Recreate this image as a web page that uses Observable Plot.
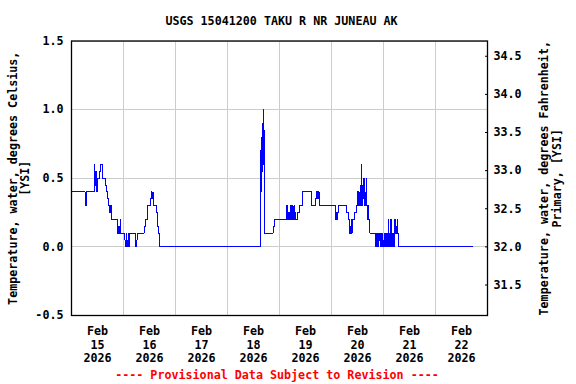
<!DOCTYPE html>
<html><head><meta charset="utf-8">
<script src="https://cdn.jsdelivr.net/npm/d3@7"></script>
<script src="https://cdn.jsdelivr.net/npm/@observablehq/plot@0.6"></script>
<style>
body{margin:0;background:#fff;width:576px;height:384px;overflow:hidden;font-family:"DejaVu Sans Mono",monospace;font-weight:bold;font-size:11.7px;color:#000;}
#title{height:30px;box-sizing:border-box;padding-top:14px;line-height:14px;text-align:center;padding-right:13px;white-space:pre;}
#foot{height:18px;line-height:18px;text-align:center;padding-right:22px;color:#ff0000;white-space:pre;}
svg{display:block;overflow:visible;}
</style></head><body>
<div id="title">USGS 15041200 TAKU R NR JUNEAU AK</div>
<div id="chart"></div>
<div id="foot">---- Provisional Data Subject to Revision ----</div>
<script>
const titleText = "USGS 15041200 TAKU R NR JUNEAU AK";
const leftLabel = "Temperature, water, degrees Celsius,\n[YSI]";
const rightLabel = "Temperature, water, degrees Fahrenheit,\nPrimary, [YSI]";
const dayTicks = ["2026-02-15","2026-02-16","2026-02-17","2026-02-18","2026-02-19","2026-02-20","2026-02-21","2026-02-22"];
const gridNoons = ["2026-02-15T12:00","2026-02-16T12:00","2026-02-17T12:00","2026-02-18T12:00","2026-02-19T12:00","2026-02-20T12:00","2026-02-21T12:00"];
const xDomain = ["2026-02-14T12:00","2026-02-22T12:00"];
const cTicks = [-0.5, 0.0, 0.5, 1.0, 1.5];
const fTicks = [31.5, 32.0, 32.5, 33.0, 33.5, 34.0, 34.5];

// change points (15-minute data), value held until next stamp
const stamps = [
"2026-02-14T12:30","2026-02-14T18:15","2026-02-14T18:30","2026-02-14T18:45","2026-02-14T22:30","2026-02-14T22:45",
"2026-02-14T23:00","2026-02-14T23:15","2026-02-14T23:30","2026-02-14T23:45","2026-02-15T00:00","2026-02-15T00:45",
"2026-02-15T01:15","2026-02-15T02:15","2026-02-15T03:45","2026-02-15T04:00","2026-02-15T04:45","2026-02-15T05:15",
"2026-02-15T05:30","2026-02-15T05:45","2026-02-15T06:00","2026-02-15T06:15","2026-02-15T06:30","2026-02-15T09:00",
"2026-02-15T09:15","2026-02-15T09:30","2026-02-15T09:45","2026-02-15T10:00","2026-02-15T10:30","2026-02-15T10:45",
"2026-02-15T12:30","2026-02-15T13:00","2026-02-15T13:15","2026-02-15T13:30","2026-02-15T13:45","2026-02-15T14:00",
"2026-02-15T14:15","2026-02-15T14:30","2026-02-15T14:45","2026-02-15T17:45","2026-02-15T18:00","2026-02-15T18:15",
"2026-02-15T21:30","2026-02-15T22:00","2026-02-15T23:15","2026-02-16T00:15","2026-02-16T00:45","2026-02-16T01:00",
"2026-02-16T01:30","2026-02-16T01:45","2026-02-16T03:15","2026-02-16T03:45","2026-02-16T04:15","2026-02-16T04:45",
"2026-02-18T03:00","2026-02-18T03:15","2026-02-18T03:30","2026-02-18T03:45","2026-02-18T04:00","2026-02-18T04:15",
"2026-02-18T04:30","2026-02-18T04:45","2026-02-18T05:00","2026-02-18T05:15","2026-02-18T09:00","2026-02-18T09:30",
"2026-02-18T15:15","2026-02-18T15:30","2026-02-18T15:45","2026-02-18T16:00","2026-02-18T16:30","2026-02-18T16:45",
"2026-02-18T17:00","2026-02-18T17:15","2026-02-18T17:30","2026-02-18T17:45","2026-02-18T18:00","2026-02-18T18:15",
"2026-02-18T18:30","2026-02-18T18:45","2026-02-18T19:00","2026-02-18T19:15","2026-02-18T20:30","2026-02-18T21:00",
"2026-02-18T22:30","2026-02-19T02:45","2026-02-19T04:45","2026-02-19T05:00","2026-02-19T05:15","2026-02-19T05:30",
"2026-02-19T05:45","2026-02-19T06:00","2026-02-19T06:15","2026-02-19T06:30","2026-02-19T13:45","2026-02-19T14:00",
"2026-02-19T14:15","2026-02-19T14:30","2026-02-19T14:45","2026-02-19T15:00","2026-02-19T19:00","2026-02-19T20:00",
"2026-02-19T20:15","2026-02-19T20:30","2026-02-19T20:45","2026-02-19T21:00","2026-02-19T21:15","2026-02-19T21:30",
"2026-02-19T21:45","2026-02-19T22:30","2026-02-19T23:30","2026-02-20T00:00","2026-02-20T00:15","2026-02-20T00:30",
"2026-02-20T00:45","2026-02-20T01:00","2026-02-20T01:15","2026-02-20T01:30","2026-02-20T01:45","2026-02-20T02:00",
"2026-02-20T02:15","2026-02-20T02:30","2026-02-20T02:45","2026-02-20T03:00","2026-02-20T03:15","2026-02-20T03:30",
"2026-02-20T03:45","2026-02-20T04:00","2026-02-20T04:15","2026-02-20T04:30","2026-02-20T04:45","2026-02-20T05:00",
"2026-02-20T05:15","2026-02-20T05:45","2026-02-20T08:15","2026-02-20T08:30","2026-02-20T08:45","2026-02-20T09:15",
"2026-02-20T09:30","2026-02-20T09:45","2026-02-20T10:00","2026-02-20T10:15","2026-02-20T10:30","2026-02-20T10:45",
"2026-02-20T11:15","2026-02-20T11:30","2026-02-20T11:45","2026-02-20T12:00","2026-02-20T12:15","2026-02-20T12:30",
"2026-02-20T12:45","2026-02-20T13:00","2026-02-20T13:15","2026-02-20T13:30","2026-02-20T13:45","2026-02-20T14:00",
"2026-02-20T14:15","2026-02-20T14:30","2026-02-20T14:45","2026-02-20T15:00","2026-02-20T15:15","2026-02-20T15:30",
"2026-02-20T15:45","2026-02-20T16:00","2026-02-20T16:15","2026-02-20T16:30","2026-02-20T16:45","2026-02-20T17:00",
"2026-02-20T17:15","2026-02-20T17:30","2026-02-20T17:45","2026-02-20T18:00","2026-02-20T18:15","2026-02-20T18:30",
"2026-02-20T19:00","2026-02-22T05:15"
];
const tempC = [
0.4,0.35,0.3,0.4,0.6,0.45,
0.55,0.45,0.55,0.4,0.5,0.55,
0.6,0.5,0.45,0.4,0.35,0.3,
0.25,0.3,0.25,0.3,0.2,0.15,
0.1,0.15,0.1,0.15,0.2,0.1,
0.05,0.0,0.1,0.0,0.05,0.0,
0.1,0.0,0.1,0.0,0.05,0.1,
0.15,0.2,0.3,0.35,0.4,0.35,
0.4,0.3,0.25,0.15,0.1,0.0,
0.7,0.4,0.8,0.55,0.9,0.6,
1.0,0.8,0.85,0.1,0.15,0.2,
0.3,0.2,0.25,0.2,0.25,0.2,
0.3,0.25,0.3,0.2,0.3,0.25,
0.2,0.3,0.25,0.2,0.25,0.3,
0.4,0.3,0.35,0.4,0.35,0.4,
0.35,0.4,0.35,0.3,0.25,0.2,
0.25,0.2,0.25,0.3,0.25,0.2,
0.1,0.15,0.1,0.2,0.1,0.15,
0.2,0.25,0.3,0.4,0.3,0.4,
0.3,0.4,0.3,0.45,0.6,0.3,
0.45,0.35,0.5,0.3,0.4,0.3,
0.4,0.5,0.3,0.25,0.2,0.3,
0.2,0.1,0.0,0.1,0.0,0.1,
0.0,0.1,0.05,0.1,0.0,0.1,
0.0,0.1,0.0,0.05,0.1,0.0,
0.1,0.0,0.1,0.0,0.1,0.0,
0.2,0.1,0.0,0.1,0.2,0.05,
0.0,0.1,0.0,0.1,0.0,0.1,
0.2,0.1,0.15,0.1,0.2,0.1,
0.0,0.0
];

const rows = stamps.map((s, i) => ({t: new Date(s), v: tempC[i]}));
const fTicksC = fTicks.map(f => (f - 32) / 1.8);
const grid = "#cccccc";

const chart = Plot.plot({
  width: 576,
  height: 336,
  marginTop: 10.5,
  marginBottom: 51,
  marginLeft: 71,
  marginRight: 89,
  style: {fontFamily: "DejaVu Sans Mono", fontWeight: "bold", fontSize: "11.7px", background: "white", color: "black", overflow: "visible"},
  x: {type: "time", domain: xDomain.map(s => new Date(s))},
  y: {domain: [cTicks[0], cTicks[cTicks.length - 1]]},
  marks: [
    Plot.gridY(cTicks.slice(1), {stroke: grid, strokeOpacity: 1, shapeRendering: "crispEdges"}),
    Plot.gridX(gridNoons.map(s => new Date(s)), {stroke: grid, strokeOpacity: 1, shapeRendering: "crispEdges"}),
    Plot.line(rows, {x: "t", y: "v", curve: "step-after", stroke: "#0000ff", strokeWidth: 1, shapeRendering: "crispEdges"}),
    Plot.frame({stroke: "black", strokeWidth: 1.3}),
    Plot.axisY(cTicks, {anchor: "left", tickSize: 0, tickPadding: 8, tickFormat: d => d.toFixed(1), label: null}),
    Plot.axisY(fTicksC, {anchor: "right", tickSize: 3, dx: -3, tickFormat: () => "", label: null}),
    Plot.axisY(fTicksC, {anchor: "right", tickSize: 0, tickPadding: 6, tickFormat: d => (d * 1.8 + 32).toFixed(1), label: null}),
    Plot.axisX(dayTicks.map(s => new Date(s + "T00:00")), {tickSize: 0, tickPadding: 10, lineHeight: 1.15, tickFormat: d => `${d3.timeFormat("%b")(d)}\n${d.getDate()}\n${d.getFullYear()}`, label: null}),
    Plot.text([leftLabel], {frameAnchor: "left", textAnchor: "middle", rotate: -90, dx: -52, text: d => d, lineHeight: 1.03}),
    Plot.text([rightLabel], {frameAnchor: "right", textAnchor: "middle", rotate: -90, dx: 62.5, text: d => d, lineHeight: 1.1})
  ]
});
document.getElementById("chart").appendChild(chart);
</script>
</body></html>
